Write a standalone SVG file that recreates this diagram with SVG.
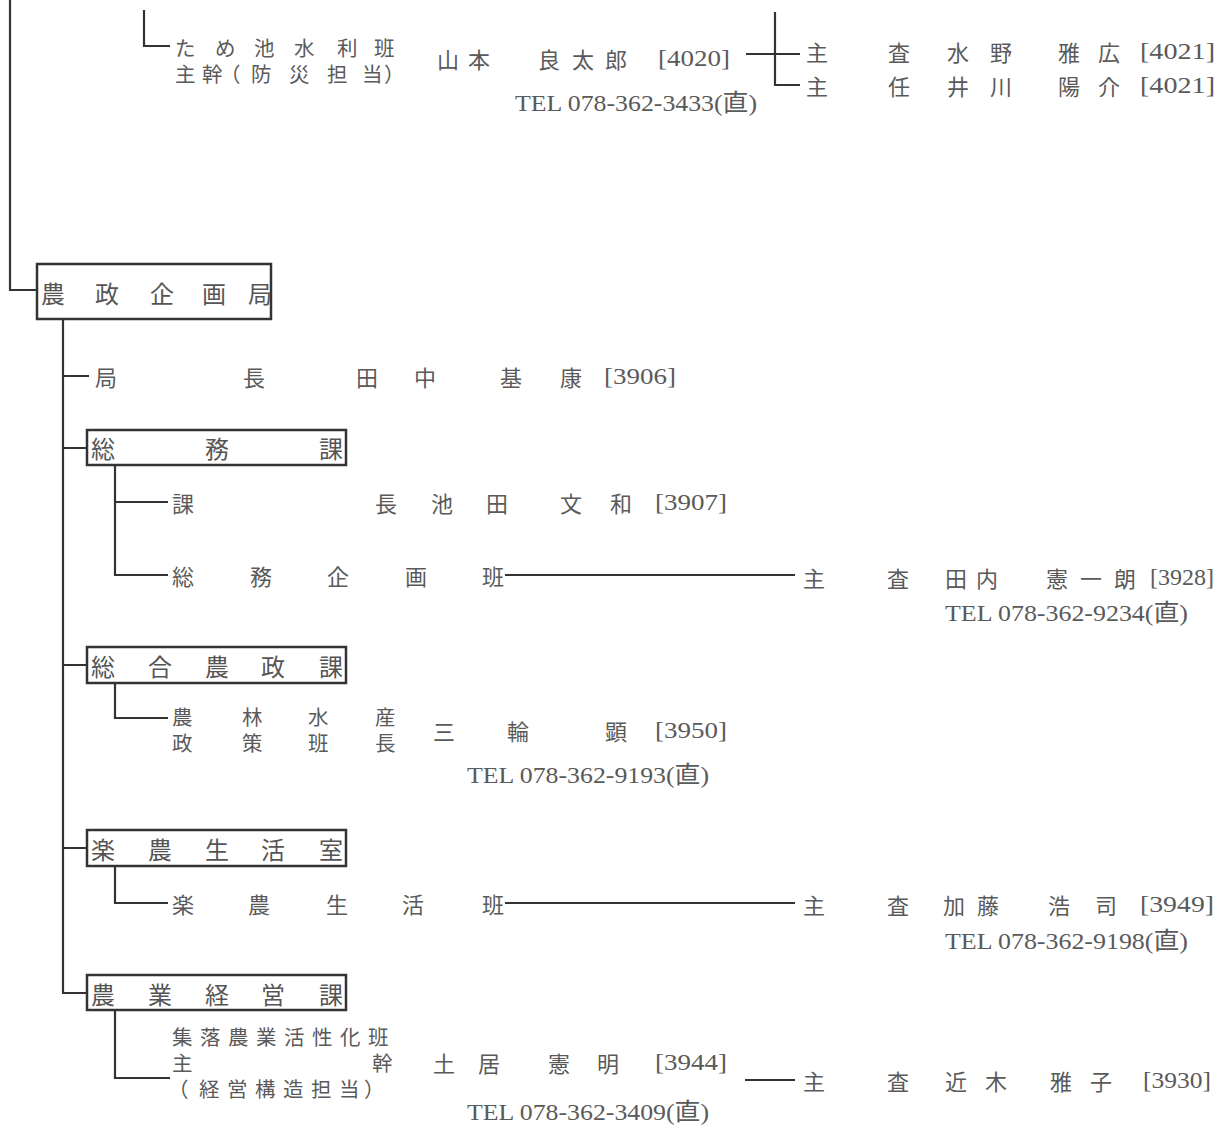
<svg xmlns="http://www.w3.org/2000/svg" width="1230" height="1131" viewBox="0 0 1230 1131">
<style>
.t{font-family:"Noto Sans CJK JP","Noto Sans CJK SC",sans-serif;font-size:22px;fill:#5a5a5a;dominant-baseline:central}
.s{font-size:20.5px}
.bt{font-family:"Noto Sans CJK JP","Noto Sans CJK SC",sans-serif;font-size:24px;fill:#555;dominant-baseline:central}
.n{font-family:"Liberation Serif","Noto Sans CJK JP",serif;font-size:24px;fill:#5a5a5a;dominant-baseline:central}
.c{stroke:#333;stroke-width:2.2;fill:none}
.box{stroke:#333;stroke-width:2.5;fill:#fff}
</style>
<rect width="1230" height="1131" fill="#fff"/>
<g id="connectors">
<path class="c" d="M10,0 V290 H37"/>
<path class="c" d="M144,10 V46 H170"/>
<path class="c" d="M746,54 H800 M775,12 V85 H800"/>
<path class="c" d="M63,319 V993 H87 M63,376 H89 M63,448 H87 M63,665 H87 M63,848 H87"/>
<path class="c" d="M115,465 V575 H168 M115,502 H168 M505,575 H795"/>
<path class="c" d="M115,683 V718 H168"/>
<path class="c" d="M115,866 V903 H168 M505,903 H795"/>
<path class="c" d="M115,1010 V1078 H170 M745,1080 H795"/>
</g>
<g id="tameike">
<text class="t s" x="175 215 254 294 337 374" y="47">ため池水利班</text>
<text class="t s" x="175 202 220 251 289 327 362 384" y="73">主幹（防災担当）</text>
<text class="t" x="437 468 538 572 605" y="58">山本良太郎</text>
<text class="n" x="658" y="58" textLength="72" lengthAdjust="spacingAndGlyphs">[4020]</text>
<text class="n" x="515" y="103" textLength="242" lengthAdjust="spacingAndGlyphs">TEL 078-362-3433(直)</text>
</g>
<g id="tameike-staff">
<text class="t" x="806 888 947 990 1058 1098" y="51">主査水野雅広</text>
<text class="n" x="1140" y="51" textLength="75" lengthAdjust="spacingAndGlyphs">[4021]</text>
<text class="t" x="806 888 947 990 1058 1098" y="85">主任井川陽介</text>
<text class="n" x="1140" y="85" textLength="75" lengthAdjust="spacingAndGlyphs">[4021]</text>
</g>
<g id="nousei-kikaku-kyoku">
<rect class="box" x="37" y="264" width="234" height="55"/>
<text class="bt" x="41 95 150 202 248" y="292">農政企画局</text>
</g>
<g id="kyokucho">
<text class="t" x="95 243 356 414 500 560" y="376">局長田中基康</text>
<text class="n" x="604" y="376" textLength="72" lengthAdjust="spacingAndGlyphs">[3906]</text>
</g>
<g id="somu-ka">
<rect class="box" x="87" y="430" width="259" height="35"/>
<text class="bt" x="91 205 319" y="447">総務課</text>
</g>
<g id="kacho">
<text class="t" x="172 375 431 486 560 610" y="502">課長池田文和</text>
<text class="n" x="655" y="502" textLength="72" lengthAdjust="spacingAndGlyphs">[3907]</text>
</g>
<g id="somu-kikaku-han">
<text class="t" x="172 250 327 405 482" y="575">総務企画班</text>
</g>
<g id="somu-staff">
<text class="t" x="803 887 945 976 1046 1080 1114" y="577">主査田内憲一朗</text>
<text class="n" x="1150" y="577" textLength="64" lengthAdjust="spacingAndGlyphs">[3928]</text>
<text class="n" x="945" y="613" textLength="243" lengthAdjust="spacingAndGlyphs">TEL 078-362-9234(直)</text>
</g>
<g id="sogo-nousei-ka">
<rect class="box" x="87" y="647" width="259" height="36"/>
<text class="bt" x="91 148 205 261 319" y="665">総合農政課</text>
</g>
<g id="norin-suisan">
<text class="t s" x="172 242 308 375" y="716">農林水産</text>
<text class="t s" x="172 242 308 375" y="742">政策班長</text>
<text class="t" x="433 507 605" y="730">三輪顕</text>
<text class="n" x="655" y="730" textLength="72" lengthAdjust="spacingAndGlyphs">[3950]</text>
<text class="n" x="467" y="775" textLength="242" lengthAdjust="spacingAndGlyphs">TEL 078-362-9193(直)</text>
</g>
<g id="rakuno-seikatsu-shitsu">
<rect class="box" x="87" y="830" width="259" height="36"/>
<text class="bt" x="91 148 205 261 319" y="848">楽農生活室</text>
</g>
<g id="rakuno-seikatsu-han">
<text class="t" x="172 248 326 402 482" y="903">楽農生活班</text>
</g>
<g id="rakuno-staff">
<text class="t" x="803 887 943 977 1048 1095" y="904">主査加藤浩司</text>
<text class="n" x="1140" y="904" textLength="74" lengthAdjust="spacingAndGlyphs">[3949]</text>
<text class="n" x="945" y="941" textLength="243" lengthAdjust="spacingAndGlyphs">TEL 078-362-9198(直)</text>
</g>
<g id="nogyo-keiei-ka">
<rect class="box" x="87" y="975" width="259" height="35"/>
<text class="bt" x="91 148 205 261 319" y="993">農業経営課</text>
</g>
<g id="shuraku">
<text class="t s" x="172 200 228 256 284 312 340 368" y="1036">集落農業活性化班</text>
<text class="t s" x="172 372" y="1062">主幹</text>
<text class="t s" x="168 199 227 255 283 311 339 364" y="1088">（経営構造担当）</text>
<text class="t" x="433 478 548 597" y="1062">土居憲明</text>
<text class="n" x="655" y="1062" textLength="72" lengthAdjust="spacingAndGlyphs">[3944]</text>
<text class="n" x="467" y="1112" textLength="242" lengthAdjust="spacingAndGlyphs">TEL 078-362-3409(直)</text>
</g>
<g id="keiei-staff">
<text class="t" x="803 887 945 985 1050 1090" y="1080">主査近木雅子</text>
<text class="n" x="1143" y="1080" textLength="68" lengthAdjust="spacingAndGlyphs">[3930]</text>
</g>
</svg>
